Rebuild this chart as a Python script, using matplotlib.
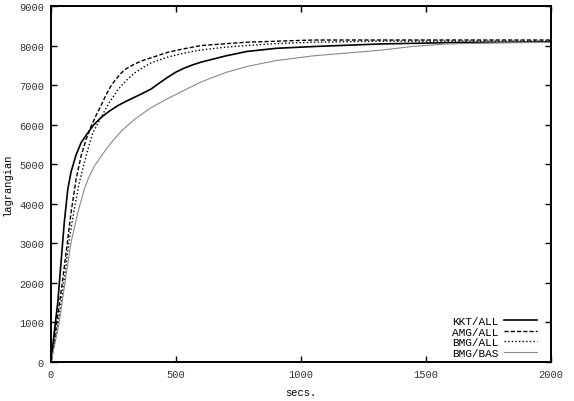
import matplotlib
matplotlib.use('Agg')
import matplotlib.pyplot as plt
import matplotlib as mpl
mpl.rcParams['font.family'] = ['Liberation Mono', 'DejaVu Sans Mono']

# data
kkt_t = [0, 13, 27, 40, 53, 67, 80, 100, 120, 147, 170, 200, 233, 267, 300, 333, 366, 400, 433, 467,
         500, 533, 566, 600, 650, 700, 783, 900, 1049, 1316, 1600, 2000]
kkt_y = [0, 750, 1500, 2510, 3520, 4360, 4800, 5230, 5540, 5790, 5990, 6180, 6340, 6480, 6590, 6690, 6790, 6900, 7050, 7200,
         7330, 7430, 7510, 7580, 7660, 7740, 7850, 7930, 7975, 8040, 8075, 8090]

amg_t = [0, 13, 27, 47, 67, 80, 100, 120, 140, 160, 180, 200, 220, 240, 260, 280, 300, 333, 366, 400,
         467, 533, 600, 783, 1049, 1500, 2000]
amg_y = [0, 550, 1170, 2090, 3100, 3770, 4610, 5200, 5620, 5950, 6230, 6480, 6750, 6980, 7150, 7300, 7410, 7530, 7620, 7690,
         7830, 7920, 8000, 8085, 8140, 8140, 8140]

bmg_t = [0, 15, 33, 53, 73, 93, 113, 133, 150, 167, 200, 233, 267, 300, 333, 366, 400, 467, 533, 600,
         700, 783, 900, 1049, 1316, 2000]
bmg_y = [0, 500, 1170, 2090, 3100, 3860, 4530, 5030, 5430, 5790, 6180, 6560, 6880, 7110, 7300, 7440, 7560, 7710, 7810, 7890,
         7960, 8000, 8050, 8085, 8110, 8110]

bas_t = [0, 15, 33, 60, 80, 107, 133, 150, 173, 200, 240, 280, 333, 400, 467, 533, 600, 700, 783, 900,
         1049, 1200, 1316, 1450, 1583, 1800, 2000]
bas_y = [0, 450, 1000, 2180, 3020, 3770, 4360, 4650, 4950, 5200, 5540, 5830, 6130, 6430, 6660, 6870, 7080, 7320, 7470, 7620,
         7740, 7820, 7880, 7980, 8040, 8070, 8080]

labels = ['KKT/ALL', 'AMG/ALL', 'BMG/ALL', 'BMG/BAS']

fig = plt.figure(figsize=(5.74, 4.02), dpi=100)
ax = fig.add_axes([51/574, 39/402, 500/574, 356/402])

ax.plot(kkt_t, kkt_y, color='black', lw=1.2, label=labels[0])
ax.plot(amg_t, amg_y, color='black', lw=1.0, dashes=(3, 1.5), label=labels[1])
ax.plot(bmg_t, bmg_y, color='black', lw=1.0, dashes=(1, 1.6), label=labels[2])
ax.plot(bas_t, bas_y, color='#8a8a8a', lw=0.8, label=labels[3])

ax.set_xlim(0, 2000)
ax.set_ylim(0, 9000)
ax.set_xticks(range(0, 2001, 500))
ax.set_yticks(range(0, 9001, 1000))
ax.tick_params(direction='in', length=4, width=1, top=True, right=True,
               labelsize=7.5, labelcolor='#333333', pad=5)
for s in ax.spines.values():
    s.set_linewidth(1.4)

ax.set_xlabel('secs.', fontsize=7.5, labelpad=6)
ax.set_ylabel('lagrangian', fontsize=7.5, labelpad=5)

ax.legend(loc='lower right', bbox_to_anchor=(0.972, 0.012), frameon=False,
          markerfirst=False, fontsize=8, handlelength=3.0, handletextpad=0.45,
          labelspacing=0.05, borderpad=0, borderaxespad=0)

fig.savefig('out.png', dpi=100)
